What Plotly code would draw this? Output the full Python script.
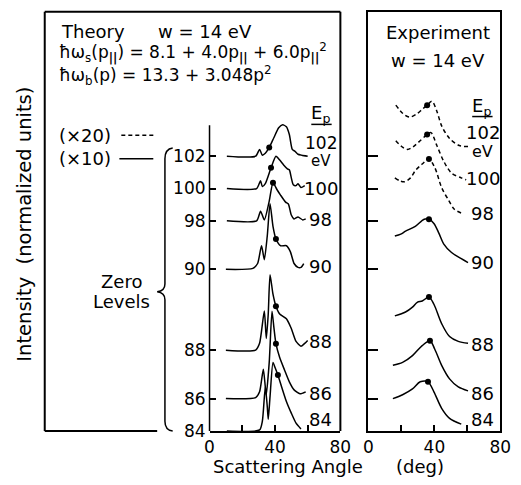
import plotly.graph_objects as go

W, H = 521, 485

energies = ["84", "86", "88", "90", "98", "100", "102"]
zero_levels = [0.0, 1.0, 2.5, 5.0, 6.5, 7.5, 8.5]

# ---- Theory curves: scattering angle (deg) and intensity above zero level ----
th84_ang = [10.6, 30.6, 32.3, 34.1, 35.3, 35.9, 37.0, 38.8, 40.0, 41.8, 44.1, 47.0, 50.0, 52.9, 55.9]
th84_int = [0.0, 0.03, 0.30, 1.36, 0.76, 0.36, 1.06, 2.12, 1.97, 1.73, 1.36, 0.91, 0.55, 0.24, 0.06]
th86_ang = [10.0, 28.2, 30.6, 32.9, 34.1, 34.7, 36.5, 38.2, 39.4, 40.6, 42.9, 45.9, 48.8, 51.7, 55.3, 58.8]
th86_int = [0.0, 0.03, 0.21, 0.91, 0.36, 0.12, 1.12, 2.70, 2.18, 1.70, 1.27, 0.88, 0.52, 0.27, 0.15, 0.21]
th88_ang = [10.0, 28.2, 30.6, 33.5, 34.7, 35.9, 37.0, 38.8, 40.6, 42.9, 47.0, 50.0, 52.9, 55.9, 58.2, 60.0]
th88_int = [0.0, 0.0, 0.21, 1.21, 0.36, 1.12, 2.33, 1.73, 1.36, 1.12, 0.97, 0.67, 0.27, 0.12, 0.21, 0.30]
th90_ang = [10.0, 26.5, 29.4, 31.8, 33.5, 35.3, 37.0, 38.8, 40.6, 43.5, 47.0, 49.4, 51.7, 54.1, 55.9, 57.6]
th90_int = [0.0, 0.03, 0.18, 0.73, 0.30, 1.03, 2.03, 1.33, 0.94, 0.73, 0.73, 0.55, 0.18, 0.06, 0.06, 0.18]
th98_ang = [10.6, 28.8, 31.2, 33.5, 36.5, 38.8, 41.2, 43.5, 46.5, 48.2, 50.0, 51.7, 54.1, 57.0, 58.8]
th98_int = [0.0, 0.0, 0.30, 0.03, 0.61, 1.18, 0.97, 0.79, 0.58, 0.52, 0.18, 0.06, 0.12, 0.03, 0.06]
th100_ang = [10.6, 28.8, 31.2, 32.3, 34.1, 37.6, 40.6, 42.9, 45.3, 47.6, 48.8, 50.0, 51.2, 52.9, 54.1, 55.9, 58.2]
th100_int = [0.0, 0.0, 0.24, 0.06, 0.15, 0.64, 1.00, 0.88, 0.73, 0.61, 0.58, 0.33, 0.12, 0.09, 0.15, 0.03, 0.09]
th102_ang = [10.6, 28.2, 30.6, 32.3, 34.1, 36.5, 39.4, 42.3, 44.7, 47.0, 48.8, 50.6, 52.3, 54.1, 56.4, 60.0]
th102_int = [0.0, 0.0, 0.21, 0.03, 0.09, 0.27, 0.58, 0.88, 0.97, 0.91, 0.67, 0.21, 0.15, 0.06, 0.03, 0.0]

th_dot_ang = [41.8, 40.6, 40.6, 40.6, 38.8, 37.6, 36.5]
th_dot_int = [1.73, 1.70, 1.36, 0.94, 1.18, 0.64, 0.27]

# ---- Experimental curves ----
ex84_ang = [14.8, 20.7, 26.7, 31.4, 36.1, 39.7, 44.4, 49.2, 56.3]
ex84_int = [1.00, 1.12, 1.30, 1.52, 1.52, 1.21, 0.70, 0.39, 0.21]
ex86_ang = [14.8, 20.7, 26.7, 32.6, 37.3, 40.3, 44.4, 49.2, 54.5, 60.4]
ex86_int = [1.03, 1.12, 1.33, 1.64, 1.79, 1.52, 1.03, 0.61, 0.36, 0.24]
ex88_ang = [16.0, 22.5, 26.7, 29.6, 32.6, 36.7, 39.7, 44.4, 49.2, 54.5, 60.4]
ex88_int = [1.06, 1.18, 1.33, 1.48, 1.52, 1.64, 1.42, 0.82, 0.42, 0.27, 0.21]
ex90_ang = [16.0, 19.6, 22.5, 28.4, 33.8, 36.7, 39.7, 42.7, 45.6, 50.4, 56.3, 60.4]
ex90_int = [1.03, 1.09, 1.18, 1.33, 1.55, 1.55, 1.42, 1.12, 0.79, 0.52, 0.33, 0.21]
ex98_ang = [16.0, 19.0, 21.9, 25.5, 28.4, 32.6, 36.7, 40.3, 44.4, 48.6, 52.1, 56.3]
ex98_int = [1.33, 1.24, 1.21, 1.33, 1.55, 1.76, 1.91, 1.64, 1.03, 0.64, 0.36, 0.24]
ex100_ang = [16.6, 20.1, 23.7, 27.3, 30.8, 35.6, 37.9, 41.5, 45.6, 50.4, 56.3, 59.3]
ex100_int = [1.48, 1.30, 1.21, 1.30, 1.45, 1.67, 1.73, 1.33, 0.85, 0.48, 0.33, 0.27]
ex102_ang = [16.6, 20.7, 24.9, 29.0, 32.6, 35.6, 38.5, 41.5, 44.4, 49.2, 55.1, 60.4]
ex102_int = [1.58, 1.33, 1.21, 1.30, 1.45, 1.58, 1.70, 1.39, 0.94, 0.55, 0.33, 0.30]

ex_dot_ang = [36.1, 37.3, 36.7, 36.7, 36.7, 35.6, 35.6]
ex_dot_int = [1.52, 1.79, 1.64, 1.55, 1.91, 1.67, 1.58]
ex_dashed = ["98", "100", "102"]

theory = {"84": (th84_ang, th84_int), "86": (th86_ang, th86_int), "88": (th88_ang, th88_int),
          "90": (th90_ang, th90_int), "98": (th98_ang, th98_int), "100": (th100_ang, th100_int),
          "102": (th102_ang, th102_int)}
experiment = {"84": (ex84_ang, ex84_int), "86": (ex86_ang, ex86_int), "88": (ex88_ang, ex88_int),
              "90": (ex90_ang, ex90_int), "98": (ex98_ang, ex98_int), "100": (ex100_ang, ex100_int),
              "102": (ex102_ang, ex102_int)}

FONT = "DejaVu Sans"
fig = go.Figure()

for i, e in enumerate(energies):
    z = zero_levels[i]
    a, v = theory[e]
    fig.add_trace(go.Scatter(x=a, y=[z + t for t in v], mode="lines", xaxis="x", yaxis="y",
                             line=dict(color="black", width=1.5, shape="spline", smoothing=0.6),
                             showlegend=False, hoverinfo="skip"))
    a, v = experiment[e]
    fig.add_trace(go.Scatter(x=a, y=[z + t for t in v], mode="lines", xaxis="x2", yaxis="y2",
                             line=dict(color="black", width=1.5, shape="spline", smoothing=0.9,
                                       dash="4px,3px" if e in ex_dashed else "solid"),
                             showlegend=False, hoverinfo="skip"))

fig.add_trace(go.Scatter(x=th_dot_ang, y=[z + t for z, t in zip(zero_levels, th_dot_int)],
                         mode="markers", xaxis="x", yaxis="y", marker=dict(color="black", size=6),
                         showlegend=False, hoverinfo="skip"))
fig.add_trace(go.Scatter(x=ex_dot_ang, y=[z + t for z, t in zip(zero_levels, ex_dot_int)],
                         mode="markers", xaxis="x2", yaxis="y2", marker=dict(color="black", size=6),
                         showlegend=False, hoverinfo="skip"))

def PX(x):
    return x / W

def PY(y):
    return 1 - y / H

YTOP = 428 / 33.0
ydom = [PY(440), PY(12)]

axis_common = dict(range=[0, 80], tick0=0, dtick=40, ticks="inside", ticklen=6,
                   tickwidth=1.5, tickcolor="black", showline=True, linecolor="black", linewidth=2,
                   minor=dict(dtick=20, ticks="inside", ticklen=6, tickwidth=1.5, tickcolor="black"),
                   showgrid=False, zeroline=False, ticklabelstandoff=0,
                   tickfont=dict(family=FONT, size=17, color="black"))

fig.update_layout(
    width=W, height=H, margin=dict(l=0, r=0, t=0, b=0),
    paper_bgcolor="white", plot_bgcolor="rgba(0,0,0,0)",
    xaxis=dict(domain=[PX(211), PX(346)], anchor="y", **axis_common),
    xaxis2=dict(domain=[PX(375), PX(511)], anchor="y2", mirror=True, **axis_common),
    yaxis=dict(domain=ydom, range=[0, YTOP], anchor="x", tickvals=zero_levels, ticktext=energies,
               ticks="inside", ticklen=6, tickwidth=1.5, tickcolor="black", showline=False,
               showgrid=False, zeroline=False, ticklabelstandoff=3,
               tickfont=dict(family=FONT, size=17, color="black")),
    yaxis2=dict(domain=ydom, range=[0, YTOP], anchor="x2", tickvals=zero_levels, showticklabels=False,
                ticks="inside", ticklen=10, tickwidth=1.5, tickcolor="black", showline=True, mirror=True,
                linecolor="black", linewidth=2, showgrid=False, zeroline=False),
)

shapes = []
def seg(x0, y0, x1, y1, width=2, dash="solid"):
    shapes.append(dict(type="line", xref="paper", yref="paper", x0=PX(x0), y0=PY(y0), x1=PX(x1), y1=PY(y1),
                       line=dict(color="black", width=width, dash=dash)))

# outer frame of theory panel
seg(41, 12, 346, 12)
seg(41, 12, 41, 440)
seg(346, 12, 346, 440)
seg(41, 440, 157, 440)
# inner zero-level axis
seg(211, 128, 211, 440, width=1.5)
# legend line samples
seg(120, 138, 156, 138, width=1.5, dash="4px,3px")
seg(118, 162, 153, 162, width=1.5)
# underlines for E_p
seg(316, 127, 337, 127, width=1.5)
seg(482, 119, 503, 119, width=1.5)

# brace
pts = [(173, 151), (165, 152), (165, 162), (165, 290), (165, 297), (157, 298), (165, 299),
       (165, 306), (165, 430), (165, 439), (173, 440)]
def P(p):
    return f"{PX(p[0]):.5f},{PY(p[1]):.5f}"
path = (f"M {P(pts[0])} Q {P(pts[1])} {P(pts[2])} L {P(pts[3])} Q {P(pts[4])} {P(pts[5])} "
        f"Q {P(pts[6])} {P(pts[7])} L {P(pts[8])} Q {P(pts[9])} {P(pts[10])}")
shapes.append(dict(type="path", xref="paper", yref="paper", path=path, line=dict(color="black", width=1.5)))
fig.update_layout(shapes=shapes)

ann = []
def lab(text, x, y, size=18, xanchor="center", angle=0):
    ann.append(dict(text=text, x=PX(x), y=PY(y), xref="paper", yref="paper", showarrow=False,
                    xanchor=xanchor, yanchor="middle", textangle=angle,
                    font=dict(family=FONT, size=size, color="black")))

PAR = "<b>||</b>"
lab("Theory", 56, 32, xanchor="left")
lab("w = 14 eV", 156, 32, xanchor="left")
lab(f"ħω<sub>s</sub>(p<sub>{PAR}</sub>) = 8.1 + 4.0p<sub>{PAR}</sub> + 6.0p<sub>{PAR}</sub><sup>2</sup>",
    54, 54, size=17, xanchor="left")
lab("ħω<sub>b</sub>(p) = 13.3 + 3.048p<sup>2</sup>", 54, 77, size=17, xanchor="left")
lab("(×20)", 54, 138, xanchor="left")
lab("(×10)", 54, 162, xanchor="left")
lab("Zero", 120, 287)
lab("Levels", 120, 308)
lab("Intensity  (normalized units)", 20, 229, size=19.5, angle=-90)
lab("Scattering Angle", 292, 476)
lab("(deg)", 428, 476)
lab("Experiment", 447, 33)
lab("w = 14 eV", 447, 62)

# theory curve labels
lab("E<sub>p</sub>", 326, 116)
for t, y, s in [("102", 146, 17), ("eV", 164, 15), ("100", 192, 18), ("98", 224, 18), ("90", 272, 18),
                ("88", 349, 18), ("86", 402, 18), ("84", 428, 18)]:
    lab(t, 326, y, size=s)
# experiment curve labels
lab("E<sub>p</sub>", 492, 109)
for t, y, s in [("102", 135, 18), ("eV", 155, 16), ("100", 182, 18), ("98", 218, 18), ("90", 268, 18),
                ("88", 352, 18), ("86", 402, 18), ("84", 428, 18)]:
    lab(t, 493, y, size=s)

fig.update_layout(annotations=ann)
fig.write_html("out.html")
